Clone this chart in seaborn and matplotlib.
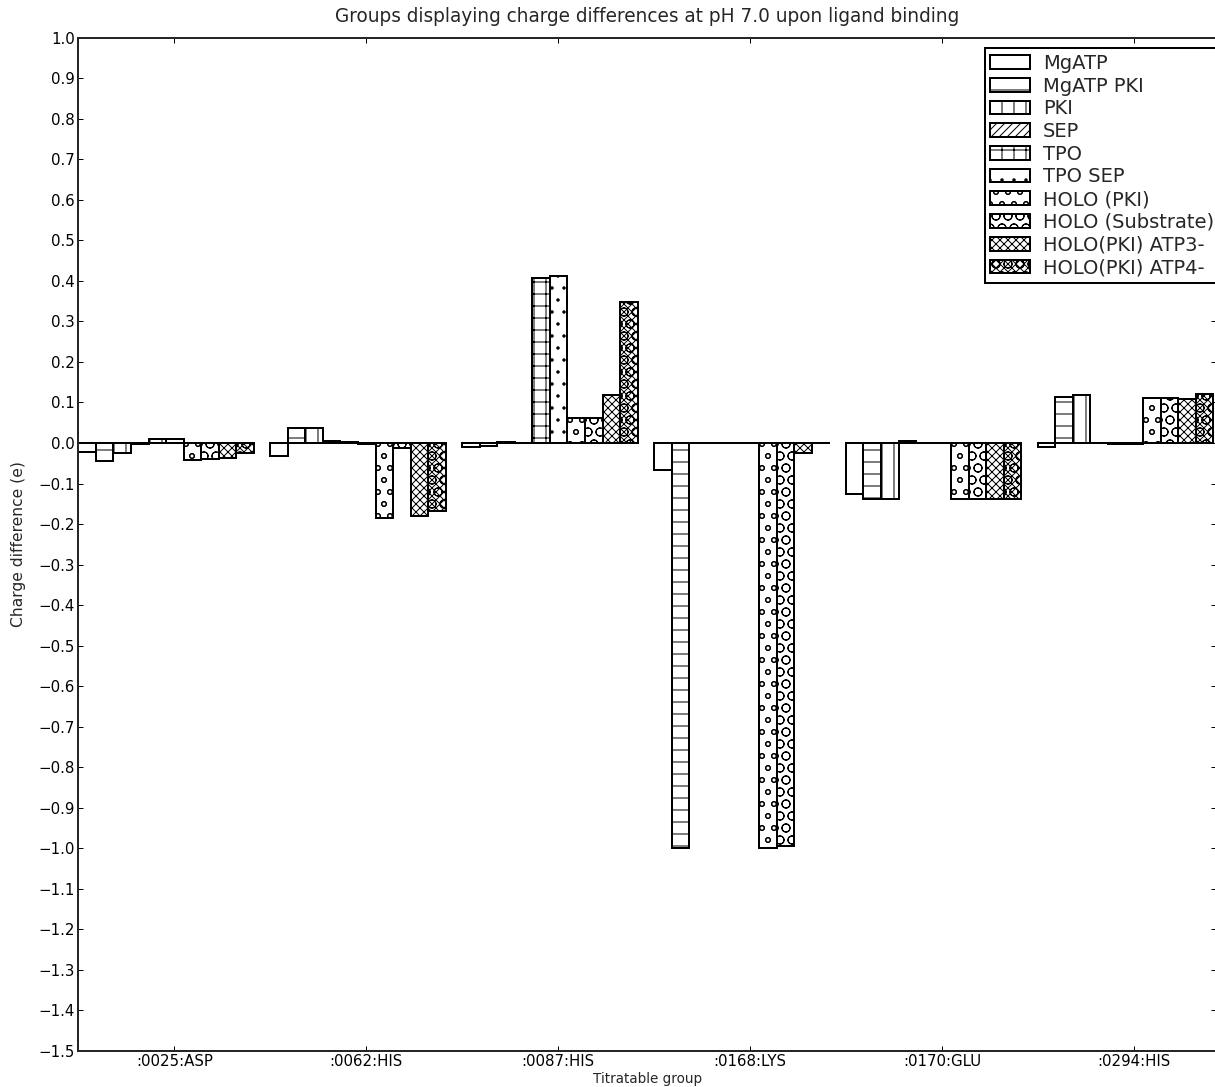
import numpy as np
import pandas as pd
import matplotlib
matplotlib.use("Agg")
import matplotlib.pyplot as plt
import seaborn as sns

groups = [":0025:ASP", ":0062:HIS", ":0087:HIS", ":0168:LYS", ":0170:GLU", ":0294:HIS"]
series = ["MgATP", "MgATP PKI", "PKI", "SEP", "TPO", "TPO SEP", "HOLO (PKI)",
          "HOLO (Substrate)", "HOLO(PKI) ATP3-", "HOLO(PKI) ATP4-"]

# charge difference per titratable group, one list per ligand state
mgatp = [-0.022, -0.033, -0.010, -0.066, -0.125, -0.011]
mgatp_pki = [-0.045, 0.038, -0.007, -1.000, -0.139, 0.113]
pki = [-0.025, 0.036, 0.003, 0.000, -0.139, 0.119]
sep = [-0.002, 0.005, 0.000, 0.000, 0.004, 0.000]
tpo = [0.010, 0.002, 0.406, 0.000, 0.000, -0.002]
tpo_sep = [0.010, -0.002, 0.412, 0.000, 0.000, -0.002]
holo_pki = [-0.041, -0.185, 0.061, -1.000, -0.139, 0.111]
holo_sub = [-0.039, -0.013, 0.061, -0.995, -0.139, 0.111]
holo_atp3 = [-0.037, -0.181, 0.119, -0.024, -0.139, 0.109]
holo_atp4 = [-0.025, -0.167, 0.349, 0.000, -0.139, 0.121]

hatches = ['', '-', '|', '///', '+', '.', 'o', 'O', 'xxx', 'xxxO']

values = [mgatp, mgatp_pki, pki, sep, tpo, tpo_sep, holo_pki, holo_sub, holo_atp3, holo_atp4]
wide = pd.DataFrame({s: v for s, v in zip(series, values)}, index=groups)
df = wide.reset_index(names="group").melt(id_vars="group", var_name="series", value_name="charge")

sns.set_style("ticks")
plt.rcParams.update({
    "xtick.direction": "in", "ytick.direction": "in",
    "xtick.top": True, "ytick.right": True,
    "xtick.major.size": 5, "ytick.major.size": 5,
    "hatch.linewidth": 1.0, "axes.linewidth": 2.0,
})

W, H = 1215, 1087
fig = plt.figure(figsize=(W / 72, H / 72), dpi=72)
left, right, top, bottom = 78.3, 1216, 37.7, 1051
ax = fig.add_axes([left / W, 1 - bottom / H, (right - left) / W, (bottom - top) / H])

gw = 0.915
sns.barplot(data=df, x="group", y="charge", hue="series", order=groups, hue_order=series,
            width=gw, gap=0, dodge=True, errorbar=None, legend=False, ax=ax)

for cont, h in zip(ax.containers, hatches):
    for bar in cont:
        bar.set_facecolor("white")
        bar.set_edgecolor("black")
        bar.set_linewidth(2)
        bar.set_hatch(h)

pitch = 191.9
ax.set_xlim(-gw / 2, -gw / 2 + (right - left) / pitch)
ax.set_xticks(np.arange(len(groups)) + 0.0425, groups)
ax.set_ylim(-1.5, 1.0)
ax.set_yticks(np.round(np.arange(-15, 11) / 10, 1))
ax.tick_params(labelsize=15, width=1, colors="black")

ax.set_title("Groups displaying charge differences at pH 7.0 upon ligand binding",
             fontsize=18.5, pad=16)
ax.set_xlabel("Titratable group", fontsize=13.5)
ax.set_ylabel("Charge difference (e)", fontsize=15.5)
ax.xaxis.set_label_coords(0.5, -0.021)
ax.yaxis.set_label_coords(-0.046, 0.5)

leg = ax.legend(ax.containers, series, loc="upper right", bbox_to_anchor=(1.0035, 0.9898),
                fontsize=19.5, fancybox=False, edgecolor="black", framealpha=1,
                labelspacing=0.19, handlelength=2.05, handleheight=0.7,
                handletextpad=0.65, borderpad=0.3, borderaxespad=0)
leg.get_frame().set_linewidth(2)

fig.savefig("out.png", dpi=72)
